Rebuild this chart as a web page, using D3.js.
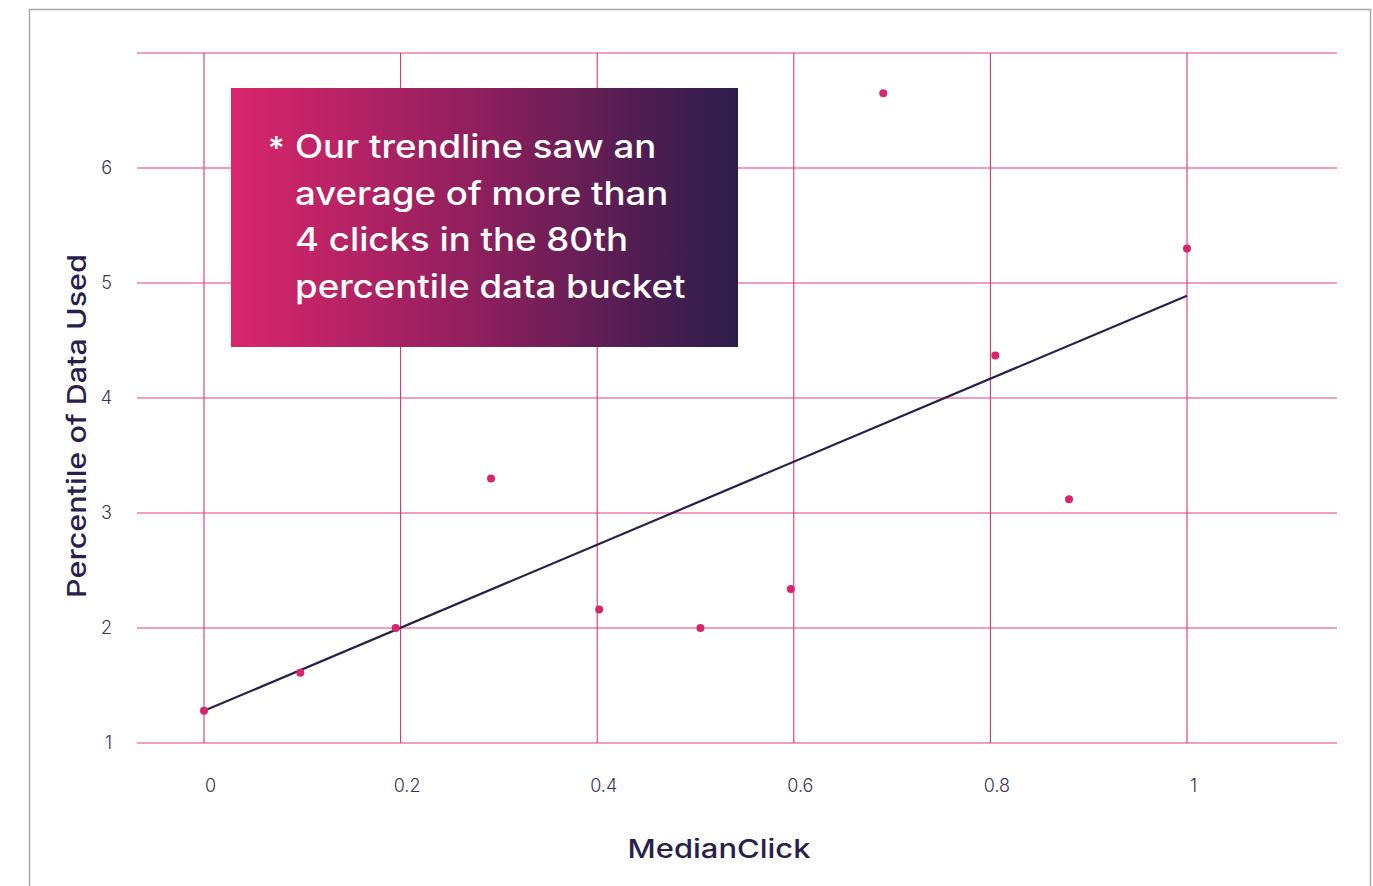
<!DOCTYPE html>
<html>
<head>
<meta charset="utf-8">
<script src="https://cdn.jsdelivr.net/npm/d3@7"></script>
<style>
  body { margin: 0; background: #fff; }
  svg { display: block; }
</style>
</head>
<body>
<svg id="chart" width="1373" height="886"></svg>
<script>
'use strict';

// data
const medianClick = [0, 0.098, 0.195, 0.292, 0.402, 0.505, 0.597, 0.691, 0.805, 0.88, 1];
const dataUsed = [1.28, 1.61, 2.0, 3.3, 2.16, 2.0, 2.34, 6.65, 4.37, 3.12, 5.3];
const trendX = [0, 1];
const trendY = [1.28, 4.89];
const xTicks = [0, 0.2, 0.4, 0.6, 0.8, 1];
const yTicks = [1, 2, 3, 4, 5, 6, 7];
const note = [
  'Our trendline saw an',
  'average of more than',
  '4 clicks in the 80th',
  'percentile data bucket'
];

const pink = '#d9256c',
  navy = '#2a1f4c',
  font = 'Inter, "Open Sans", sans-serif';

const svg = d3.select('#chart');

// outer frame
svg.append('rect')
  .attr('x', 29.5).attr('y', 9.5)
  .attr('width', 1341).attr('height', 900)
  .attr('fill', 'none')
  .attr('stroke', '#a8a8a8')
  .attr('stroke-width', 1.5);

const plot = { left: 137, right: 1337, top: 53, bottom: 743 };

const x = d3.scaleLinear()
  .domain([-67 / 983, 1 + 150 / 983])
  .range([plot.left, plot.right]);
const y = d3.scaleLinear()
  .domain([1, 7])
  .range([plot.bottom, plot.top]);

// horizontal grid
svg.append('g')
  .selectAll('line')
  .data(yTicks)
  .join('line')
  .attr('x1', plot.left).attr('x2', plot.right)
  .attr('y1', (d) => y(d)).attr('y2', (d) => y(d))
  .attr('stroke', '#e2437f')
  .attr('stroke-width', 1.2);

// vertical grid
svg.append('g')
  .selectAll('line')
  .data(xTicks)
  .join('line')
  .attr('x1', (d) => x(d)).attr('x2', (d) => x(d))
  .attr('y1', plot.top).attr('y2', plot.bottom)
  .attr('stroke', pink)
  .attr('stroke-width', 1);

// axes (labels only)
const yAxis = svg.append('g')
  .attr('transform', 'translate(' + (plot.left - 22) + ',0)')
  .call(d3.axisLeft(y).tickValues(yTicks.slice(0, -1)).tickSize(0).tickFormat(d3.format('d')));
const xAxis = svg.append('g')
  .attr('transform', 'translate(6,' + (plot.bottom + 33) + ')')
  .call(d3.axisBottom(x).tickValues(xTicks).tickSize(0).tickFormat((d) => d3.format('')(d)));

[yAxis, xAxis].forEach((a) => {
  a.select('.domain').remove();
  a.selectAll('text')
    .attr('fill', '#3b3456')
    .style('font-family', font)
    .style('font-weight', 300)
    .style('font-size', '18px');
});

// trendline
svg.append('path')
  .datum(trendX.map((d, i) => [d, trendY[i]]))
  .attr('fill', 'none')
  .attr('stroke', navy)
  .attr('stroke-width', 2.2)
  .attr('d', d3.line().x((d) => x(d[0])).y((d) => y(d[1])));

// points
svg.append('g')
  .selectAll('circle')
  .data(medianClick.map((d, i) => [d, dataUsed[i]]))
  .join('circle')
  .attr('cx', (d) => x(d[0]))
  .attr('cy', (d) => y(d[1]))
  .attr('r', 4)
  .attr('fill', pink);

// axis titles - Inter stretched a bit to get closer to the wide original face
svg.append('text')
  .attr('transform', 'translate(719,858) scale(1.19,1)')
  .attr('text-anchor', 'middle')
  .attr('fill', navy)
  .style('font-family', font)
  .style('font-weight', 500)
  .style('font-size', '26px')
  .text('MedianClick');

svg.append('text')
  .attr('transform', 'translate(86,426) rotate(-90) scale(1.175,1)')
  .attr('text-anchor', 'middle')
  .attr('fill', navy)
  .style('font-family', font)
  .style('font-weight', 500)
  .style('font-size', '26px')
  .text('Percentile of Data Used');

// annotation box
const grad = svg.append('defs').append('linearGradient')
  .attr('id', 'boxGrad')
  .attr('x1', '0%').attr('x2', '100%')
  .attr('y1', '0%').attr('y2', '0%');
grad.append('stop').attr('offset', '0%').attr('stop-color', '#da266b');
grad.append('stop').attr('offset', '50%').attr('stop-color', '#8c1f5d');
grad.append('stop').attr('offset', '100%').attr('stop-color', '#2b1d4b');

svg.append('rect')
  .attr('x', 231).attr('y', 88)
  .attr('width', 507).attr('height', 259)
  .attr('fill', 'url(#boxGrad)');

const noteText = svg.append('g')
  .attr('fill', '#fff')
  .style('font-family', font)
  .style('font-weight', 500)
  .style('font-size', '32px');

noteText.append('text')
  .attr('x', 268).attr('y', 160)
  .style('font-size', '32px')
  .text('*');

noteText.selectAll('text.line')
  .data(note)
  .join('text')
  .attr('class', 'line')
  .attr('transform', (d, i) => 'translate(295,' + (158 + i * 46.7) + ') scale(1.145,1)')
  .text((d) => d);
</script>
</body>
</html>
